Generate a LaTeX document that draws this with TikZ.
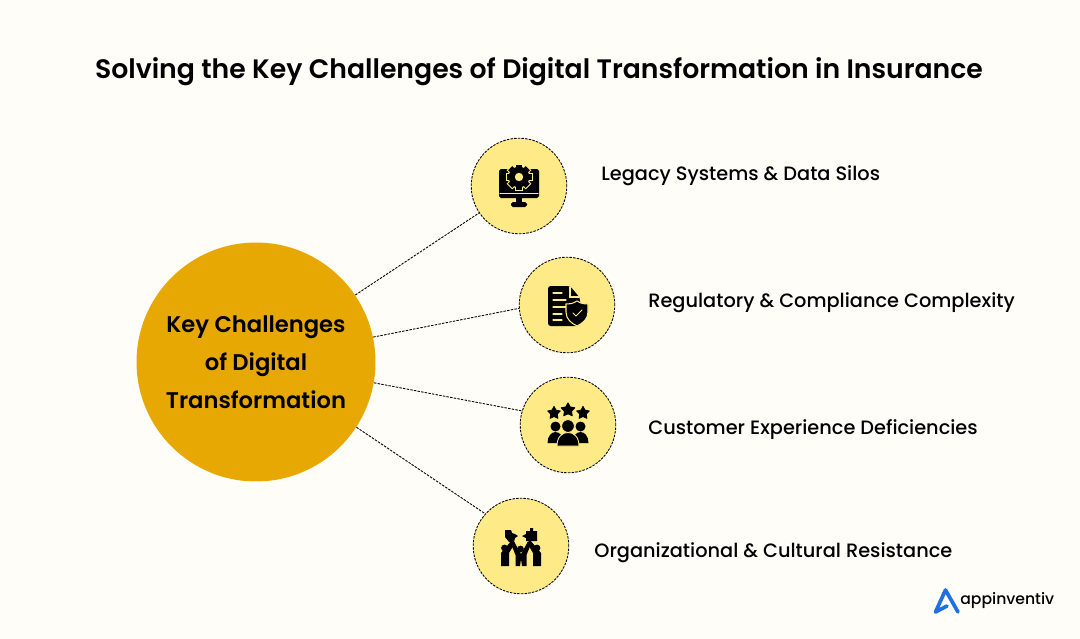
\documentclass[tikz,border=0pt]{standalone}
\usepackage{fontspec}
\setmainfont{Poppins}[UprightFont=* Medium,BoldFont=* SemiBold]
\usetikzlibrary{shapes.geometric}
\definecolor{pagebg}{HTML}{FFFDF8}
\definecolor{hubfill}{HTML}{E8A804}
\definecolor{spokefill}{HTML}{FEEA86}
\definecolor{logoblue}{HTML}{1F6FE5}
\tikzset{
  hub/.style={circle,fill=hubfill,minimum size=136pt,inner sep=0pt,align=center,font=\fontsize{12.9}{21.5}\selectfont\bfseries},
  spoke/.style={circle,fill=spokefill,draw=black,line width=0.5pt,dash pattern=on 1.4pt off 0.7pt,minimum size=54.4pt,inner sep=0pt},
  link/.style={draw=black,line width=0.5pt,dash pattern=on 1.4pt off 0.7pt},
  lab/.style={anchor=west,font=\fontsize{11}{14}\selectfont,inner sep=0pt},
  cut/.style={draw=spokefill,line width=0.6pt,line cap=round},
}
\begin{document}
\begin{tikzpicture}[x=0.02cm,y=-0.02cm]
    \fill[pagebg] (0,0) rectangle (1080,639);
    \useasboundingbox (0,0) rectangle (1080,639);
    \node[font=\fontsize{15.2}{18}\selectfont\bfseries,inner sep=0pt] (title) at (539,72) {Solving the Key Challenges of Digital Transformation in Insurance};
    \node[hub] (hub) at (256,362) {Key Challenges\\of Digital\\Transformation};
    \node[spoke] (legacy) at (519,186) {};
    \node[spoke] (regulatory) at (567,305) {};
    \node[spoke] (customer) at (568,425) {};
    \node[spoke] (culture) at (521,546) {};
    \foreach \s/\a/\b in {legacy/34/214,regulatory/12/184,customer/-10/163,culture/-33/138} \draw[link] (hub.\a) -- (\s.\b);
    \node[lab] (legacylab) at (601,176) {Legacy Systems \& Data Silos};
    \node[lab] (regulatorylab) at (648,303) {Regulatory \& Compliance Complexity};
    \node[lab] (customerlab) at (648,430) {Customer Experience Deficiencies};
    \node[lab] (culturelab) at (594,553) {Organizational \& Cultural Resistance};
    
    \fill[rounded corners=1pt] (499,169) rectangle (539,198);
    \draw[cut] (500,193.5) -- (538,193.5);
    \fill (516,198) rectangle (522,203);
    \fill[rounded corners=1pt] (511,202) rectangle (527,207);
    \foreach \a in {0,45,...,315} \fill[spokefill,rotate around={\a:(519,177)}] (515,163.5) rectangle (523,177);
    \fill[spokefill] (519,177) circle (11.5);
    \foreach \a in {0,45,...,315} \fill[rotate around={\a:(519,177)}] (516,164.5) rectangle (522,177);
    \fill (519,177) circle (10.3);
    \fill[spokefill] (519,177) circle (4.2);
    
    \fill[rounded corners=1.5pt] (548,286) -- (570,286) -- (580,298) -- (580,326) -- (548,326) -- cycle;
    \foreach \y/\r in {293/562,300/566,307/566,314/562,320/562} \draw[cut] (553,\y) -- (\r,\y);
    \draw[cut] (570,287) -- (570,297) -- (579,297);
    \fill[draw=spokefill,line width=0.6pt] (577,301) .. controls (572,304) and (570,304) .. (566,304) -- (566,312) .. controls (566,319) and (571,323) .. (577,326) .. controls (583,323) and (588,319) .. (588,312) -- (588,304) .. controls (584,304) and (582,304) .. (577,301) -- cycle;
    \draw[cut] (573,313) -- (576,316) -- (582,310);
    
    \foreach \x/\y/\r in {554/413/6.6,568/410/7.2,583/413/6.6} \node[star,star points=5,star point ratio=1.9,fill=black,draw=black,line width=0.5pt,line join=round,minimum size=2*\r*0.567pt,inner sep=0pt] (star\x) at (\x,\y) {};
    \foreach \x in {555.5,580.5} {
      \fill (\x,426.5) circle (5);
      \fill (\x-8,443) .. controls (\x-8,436) and (\x-4,432) .. (\x,432) .. controls (\x+4,432) and (\x+8,436) .. (\x+8,443) -- cycle;
    }
    \fill[draw=spokefill,line width=0.5pt] (568,426) circle (6.4);
    \fill[draw=spokefill,line width=0.5pt] (557,446) .. controls (557,437) and (562,432.5) .. (568,432.5) .. controls (574,432.5) and (579,437) .. (579,446) -- cycle;
    
    \fill (505,530) -- (511,530) -- (512,533) -- (515,534) -- (518,536) -- (515,538) -- (514,542) -- (509,542) -- (505,537) -- cycle;
    \fill (526,531) -- (530,531) -- (530,528) -- (533,528) -- (533,531) -- (537,531) -- (537,541) -- (526,541) -- (526,538) -- (522,536) -- (526,534) -- cycle;
    \foreach \x/\y in {504.5/548,520.5/549,537/548} \fill (\x,\y) circle (3.4);
    \fill (501,566) -- (501,553) -- (512,540) -- (515,543) -- (509,553) -- (509,566) -- cycle;
    \fill (541,566) -- (541,553) -- (530,540) -- (527,543) -- (533,553) -- (533,566) -- cycle;
    \fill (511,544) -- (514,541.5) -- (521,554) -- (528,541.5) -- (531,544) -- (526.5,555) -- (526.5,566) -- (522,566) -- (521,559) -- (520,566) -- (515.5,566) -- (515.5,555) -- cycle;
    
    \draw[logoblue,line width=2.1pt,line cap=round,line join=round] (958,612) -- (945.5,590) -- (935.5,612) -- (947,606);
    \node[anchor=west,inner sep=0pt,font=\fontsize{8.9}{12}\selectfont] (brand) at (960,601) {appinventiv};
\end{tikzpicture}
\end{document}
